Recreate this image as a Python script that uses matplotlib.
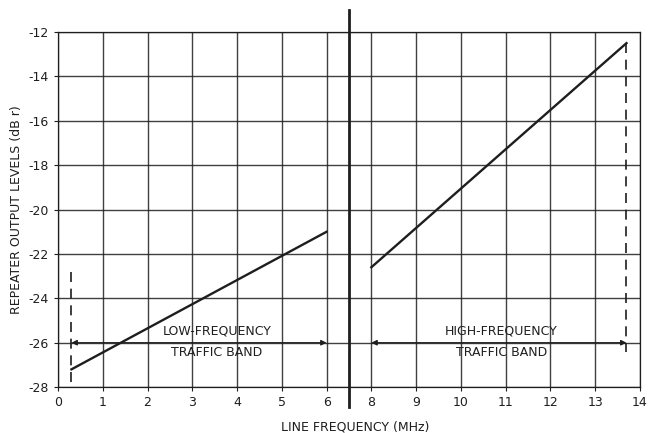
import matplotlib.pyplot as plt

# x values are in MHz; the axis skips 7 MHz (break between 6 and 8)
freq_ticks = [0, 1, 2, 3, 4, 5, 6, 8, 9, 10, 11, 12, 13, 14]
level_ticks = [-12, -14, -16, -18, -20, -22, -24, -26, -28]

low_freq = [0.3, 6]
low_level = [-27.2, -21.0]
high_freq = [8, 13.7]
high_level = [-22.6, -12.5]

low_dash_freq = [0.3, 0.3]
low_dash_level = [-22.8, -27.8]
high_dash_freq = [13.7, 13.7]
high_dash_level = [-12.5, -26.4]

band_level = -26
low_band = (0.3, 6)
high_band = (8, 13.7)
band_text_freq = [3.55, 10.9]
band_names = ["LOW-FREQUENCY", "HIGH-FREQUENCY"]
break_freq = 7


def pos(f):
    # compress the gap: 8 MHz sits one grid step after 6 MHz
    if isinstance(f, (list, tuple)):
        return [pos(v) for v in f]
    return f if f <= 6 else (f - 1 if f >= 8 else 6 + (f - 6) / 2)


def main():
    ink = "#1e1e1e"
    plt.rcParams["font.family"] = ["DejaVu Sans"]

    fig = plt.figure(figsize=(6.49, 4.33), dpi=100)
    ax = fig.add_axes([0.0894, 0.106, 0.8966, 0.820])

    ax.set_xlim(0, 13)
    ax.set_ylim(-28, -12)
    ax.set_xticks(pos(freq_ticks))
    ax.set_xticklabels([str(f) for f in freq_ticks])
    ax.set_yticks(level_ticks)
    ax.set_yticklabels([str(v) for v in level_ticks])
    ax.grid(True, color=ink, linewidth=1.0, alpha=0.85)
    ax.tick_params(colors=ink, labelsize=9, length=3, width=0.8)
    for s in ax.spines.values():
        s.set_color(ink)
        s.set_linewidth(0.9)

    ax.plot(pos(low_freq), low_level, color=ink, linewidth=1.7)
    ax.plot(pos(high_freq), high_level, color=ink, linewidth=1.7)
    ax.plot(pos(low_dash_freq), low_dash_level, color=ink, linewidth=1.2,
            linestyle=(0, (6, 4)))
    ax.plot(pos(high_dash_freq), high_dash_level, color=ink, linewidth=1.2,
            linestyle=(0, (6, 4)))

    # break line that runs past the frame
    ax.plot([pos(break_freq)] * 2, [-28.9, -11.0], color=ink, linewidth=2.0,
            clip_on=False, zorder=5)

    for band, name, tf in zip([low_band, high_band], band_names, band_text_freq):
        ax.annotate("", xy=(pos(band[0]), band_level), xytext=(pos(band[1]), band_level),
                    arrowprops=dict(arrowstyle="<|-|>", color=ink, lw=0.9,
                                    mutation_scale=8, shrinkA=0, shrinkB=0))
        ax.text(pos(tf), band_level + 0.55, name, ha="center", va="center",
                fontsize=9, color=ink)
        ax.text(pos(tf), band_level - 0.45, "TRAFFIC BAND", ha="center", va="center",
                fontsize=9, color=ink)

    ax.set_xlabel("LINE FREQUENCY (MHz)", fontsize=9, color=ink)
    ax.xaxis.set_label_coords(0.51, -0.095)
    ax.set_ylabel("REPEATER OUTPUT LEVELS (dB r)", fontsize=9, color=ink, labelpad=4)

    fig.savefig("out.png", dpi=100)


if __name__ == "__main__":
    main()
